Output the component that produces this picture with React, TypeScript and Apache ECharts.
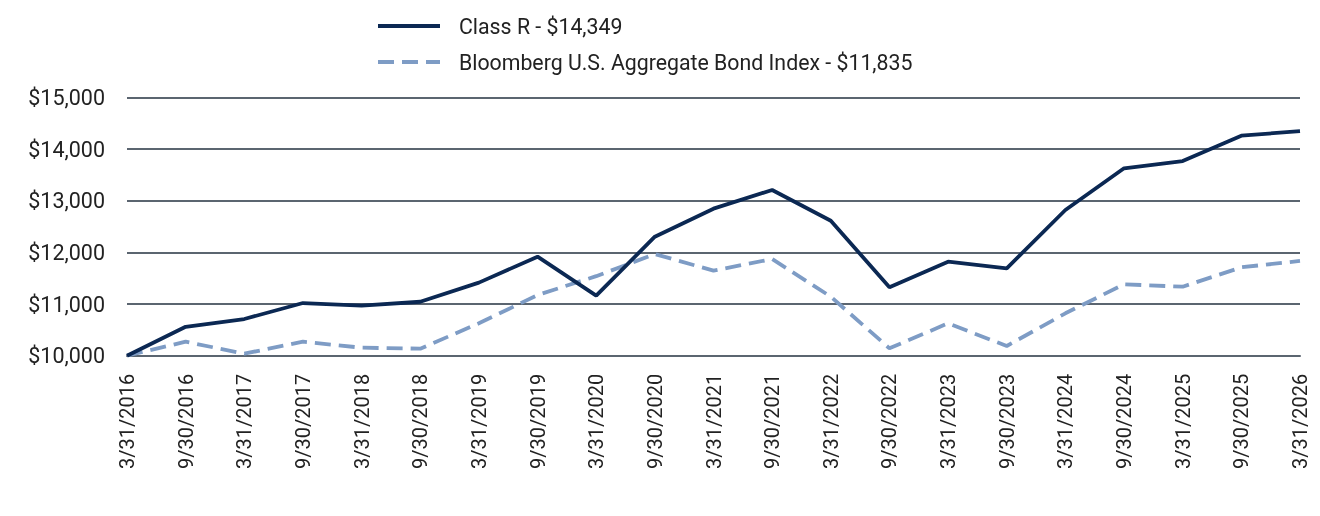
import React, { useEffect, useRef } from "react";
import * as echarts from "echarts";

const categories = [
  "3/31/2016", "9/30/2016", "3/31/2017", "9/30/2017", "3/31/2018", "9/30/2018",
  "3/31/2019", "9/30/2019", "3/31/2020", "9/30/2020", "3/31/2021", "9/30/2021",
  "3/31/2022", "9/30/2022", "3/31/2023", "9/30/2023", "3/31/2024", "9/30/2024",
  "3/31/2025", "9/30/2025", "3/31/2026",
];

const classR = [
  10000, 10560, 10710, 11020, 10970, 11045, 11415, 11917, 11162, 12305, 12847,
  13209, 12614, 11325, 11820, 11692, 12821, 13629, 13770, 14260, 14349,
];

const bloomberg = [
  10000, 10271, 10039, 10271, 10155, 10136, 10627, 11175, 11540, 11969, 11646,
  11872, 11143, 10143, 10627, 10188, 10821, 11383, 11336, 11712, 11835,
];

const seriesNames = ["Class R - $14,349", "Bloomberg U.S. Aggregate Bond Index - $11,835"];
const seriesColors = ["#0b2853", "#7e9cc5"];

export default function App() {
  const ref = useRef<HTMLDivElement>(null);
  useEffect(() => {
    if (!ref.current) return;
    const chart = echarts.init(ref.current, undefined, { renderer: "svg" });
    const font = "Roboto";
    const legendRows = [26, 62];
    chart.setOption({
      animation: false,
      textStyle: { fontFamily: font },
      graphic: seriesNames.flatMap((name, i) => [
        {
          type: "line",
          shape: { x1: 378, y1: legendRows[i], x2: 440, y2: legendRows[i] },
          style: {
            stroke: seriesColors[i],
            lineWidth: 4,
            lineDash: i === 1 ? [16, 8] : null,
          },
        },
        {
          type: "text",
          x: 459,
          y: legendRows[i],
          style: {
            text: name,
            fontSize: 21.3,
            fontFamily: font,
            fill: "#222",
            verticalAlign: "middle",
            align: "left",
          },
        },
      ]),
      grid: { left: 127, right: 20, top: 97.5, bottom: 160.3, containLabel: false },
      xAxis: {
        type: "category",
        data: categories,
        boundaryGap: false,
        axisLine: { show: true, lineStyle: { color: "#5b6570", width: 2 } },
        axisTick: { show: false },
        axisLabel: {
          rotate: 90,
          fontSize: 20,
          color: "#222",
          margin: 18,
          fontFamily: font,
          interval: 0,
        },
      },
      yAxis: {
        type: "value",
        min: 10000,
        max: 15000,
        interval: 1000,
        axisLine: { show: false },
        axisTick: { show: false },
        splitLine: { lineStyle: { color: "#5b6570", width: 2 } },
        axisLabel: {
          fontSize: 21.5,
          color: "#222",
          margin: 22,
          fontFamily: font,
          formatter: (v: number) => "$" + v.toLocaleString("en-US"),
        },
      },
      series: [
        {
          name: seriesNames[0],
          type: "line",
          data: classR,
          symbol: "none",
          lineStyle: { color: seriesColors[0], width: 3.8 },
          itemStyle: { color: seriesColors[0] },
          z: 3,
        },
        {
          name: seriesNames[1],
          type: "line",
          data: bloomberg,
          symbol: "none",
          lineStyle: { color: seriesColors[1], width: 3.8, type: [16, 8] },
          itemStyle: { color: seriesColors[1] },
          z: 2,
        },
      ],
    });
    return () => chart.dispose();
  }, []);
  return (
    <div
      ref={ref}
      style={{ position: "fixed", left: 0, top: 0, width: 1320, height: 516 }}
    />
  );
}
